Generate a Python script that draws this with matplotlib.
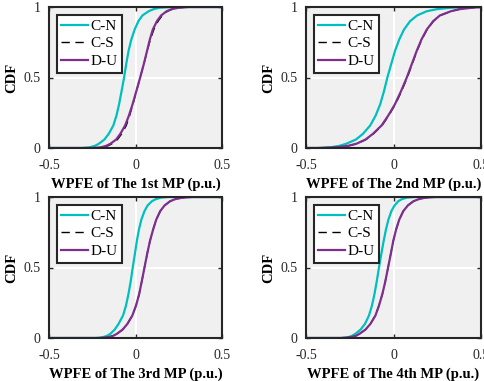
import matplotlib.pyplot as plt

# CDF levels shared by every curve
cdf = [0, 0.005, 0.015, 0.03, 0.06, 0.10, 0.16, 0.23, 0.31, 0.40, 0.50,
       0.60, 0.69, 0.77, 0.84, 0.90, 0.94, 0.97, 0.985, 0.995, 1]

# x positions (p.u.), one list per panel and series
cn_1 = [-0.31, -0.265, -0.235, -0.212, -0.180, -0.155, -0.128, -0.110, -0.095, -0.081, -0.066,
        -0.053, -0.040, -0.024, -0.005, 0.017, 0.040, 0.076, 0.105, 0.14, 0.22]
cs_1 = [-0.24, -0.19, -0.16, -0.136, -0.104, -0.080, -0.053, -0.034, -0.015, 0.005, 0.027,
        0.049, 0.068, 0.086, 0.106, 0.131, 0.155, 0.185, 0.213, 0.25, 0.31]
du_1 = [-0.25, -0.20, -0.17, -0.145, -0.112, -0.088, -0.060, -0.038, -0.017, 0.004, 0.027,
        0.049, 0.067, 0.083, 0.100, 0.124, 0.148, 0.180, 0.21, 0.25, 0.31]

cn_2 = [-0.43, -0.36, -0.31, -0.27, -0.215, -0.175, -0.133, -0.102, -0.076, -0.055, -0.035,
        -0.012, 0.009, 0.033, 0.060, 0.095, 0.135, 0.19, 0.25, 0.33, 0.46]
cs_2 = [-0.43, -0.33, -0.26, -0.210, -0.157, -0.115, -0.065, -0.027, 0.011, 0.045, 0.079,
        0.108, 0.135, 0.162, 0.192, 0.229, 0.267, 0.330, 0.38, 0.45, 0.5]
du_2 = [-0.43, -0.33, -0.26, -0.212, -0.160, -0.118, -0.068, -0.030, 0.008, 0.042, 0.076,
        0.106, 0.133, 0.160, 0.190, 0.227, 0.265, 0.328, 0.38, 0.45, 0.5]

cn_3 = [-0.23, -0.19, -0.165, -0.145, -0.120, -0.098, -0.072, -0.055, -0.041, -0.028, -0.016,
        -0.003, 0.008, 0.020, 0.034, 0.052, 0.070, 0.095, 0.118, 0.145, 0.19]
cs_3 = [-0.21, -0.16, -0.13, -0.107, -0.074, -0.047, -0.018, 0.003, 0.021, 0.036, 0.052,
        0.068, 0.084, 0.102, 0.120, 0.143, 0.168, 0.200, 0.23, 0.27, 0.33]
du_3 = [-0.21, -0.16, -0.13, -0.107, -0.074, -0.047, -0.018, 0.003, 0.021, 0.036, 0.052,
        0.068, 0.084, 0.102, 0.120, 0.143, 0.168, 0.200, 0.23, 0.27, 0.33]

cn_4 = [-0.30, -0.26, -0.238, -0.217, -0.188, -0.163, -0.140, -0.123, -0.109, -0.096, -0.083,
        -0.069, -0.056, -0.043, -0.029, -0.012, 0.006, 0.027, 0.048, 0.075, 0.12]
cs_4 = [-0.30, -0.245, -0.215, -0.194, -0.160, -0.132, -0.103, -0.083, -0.064, -0.047, -0.031,
        -0.015, -0.001, 0.015, 0.033, 0.056, 0.082, 0.114, 0.145, 0.18, 0.24]
du_4 = [-0.30, -0.245, -0.215, -0.194, -0.160, -0.132, -0.103, -0.083, -0.064, -0.047, -0.031,
        -0.015, -0.001, 0.015, 0.033, 0.056, 0.082, 0.114, 0.145, 0.18, 0.24]

panels = [(cn_1, cs_1, du_1, '1st'), (cn_2, cs_2, du_2, '2nd'),
          (cn_3, cs_3, du_3, '3rd'), (cn_4, cs_4, du_4, '4th')]
x_ticks = [-0.5, 0, 0.5]
x_tick_labels = ['-0.5', '0', '0.5']
y_ticks = [0, 0.5, 1]
y_tick_labels = ['0', '0.5', '1']

plt.rcParams['font.family'] = ['Liberation Serif', 'DejaVu Serif']

fig = plt.figure(figsize=(4.84, 3.81), dpi=100)
W, H = 484, 381
boxes = [(49, 7, 222, 148), (306, 7, 481, 148), (49, 197, 222, 338), (306, 197, 481, 338)]
edge = '#262626'


def full(xs):
    # curves sit flat at 0 / 1 out to the axis limits
    return [-0.5] + xs + [0.5], [0] + cdf + [1]


for (l, t, r, b), (cn, cs, du, nth) in zip(boxes, panels):
    ax = fig.add_axes([l / W, 1 - b / H, (r - l) / W, (b - t) / H])
    ax.set_facecolor('#f0f0f0')
    ax.plot(*full(cn), color='#00bfbf', lw=1.6, label='C-N')
    ax.plot(*full(cs), color='black', lw=1.0, ls=(0, (6, 4)), label='C-S')
    ax.plot(*full(du), color='#7e2f8e', lw=1.6, label='D-U')
    ax.set_xlim(-0.5, 0.5)
    ax.set_ylim(0, 1)
    ax.set_xticks(x_ticks)
    ax.set_xticklabels(x_tick_labels)
    ax.set_yticks(y_ticks)
    ax.set_yticklabels(y_tick_labels)
    ax.grid(True, color='white', lw=1.5)
    ax.set_axisbelow(True)
    ax.tick_params(direction='in', length=3, width=1, top=True, right=True,
                   labelsize=10, labelcolor=edge, color=edge)
    ax.tick_params(axis='y', pad=6)
    ax.tick_params(axis='x', pad=8)
    for s in ax.spines.values():
        s.set_color(edge)
        s.set_linewidth(1.5)
    ax.set_xlabel('WPFE of The ' + nth + ' MP (p.u.)', fontsize=10.5, fontweight='bold', labelpad=4)
    ax.set_ylabel('CDF', fontsize=10.5, fontweight='bold', labelpad=4)
    leg = ax.legend(loc='upper left', fontsize=11, fancybox=False, framealpha=1,
                    edgecolor=edge, borderaxespad=0.5, borderpad=0.3,
                    handletextpad=0.15, labelspacing=0.25, handlelength=1.75)
    leg.get_frame().set_linewidth(1.5)

fig.savefig('out.png', dpi=100)
